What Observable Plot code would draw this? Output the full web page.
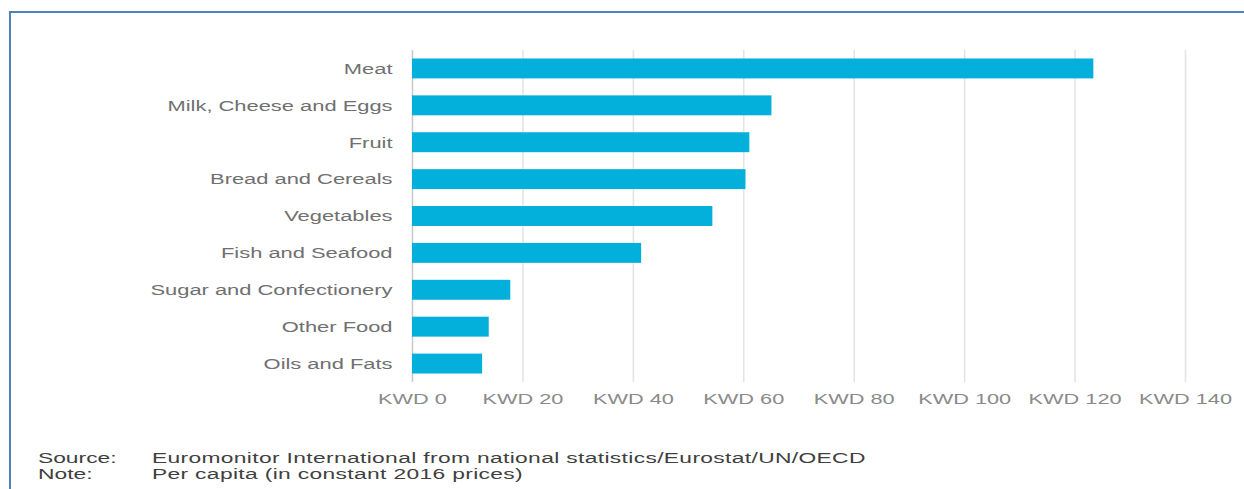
<!DOCTYPE html>
<html>
<head>
<meta charset="utf-8">
<script src="https://cdn.jsdelivr.net/npm/d3@7"></script>
<script src="https://cdn.jsdelivr.net/npm/@observablehq/plot@0.6"></script>
<style>
  html, body { margin: 0; padding: 0; background: #fff; }
  #frame {
    position: relative; width: 1244px; height: 489px; overflow: hidden;
    font-family: "Liberation Sans", Arial, sans-serif;
  }
  #border-top { position: absolute; left: 9px; top: 11px; width: 1235px; height: 2px; background: #4f81bd; }
  #border-left { position: absolute; left: 9px; top: 11px; width: 2px; height: 478px; background: #4f81bd; }
  #chart { position: absolute; left: 0; top: 0; }
  #notes {
    position: absolute; left: 38px; top: 450px;
    font-size: 15.5px; line-height: 16px; color: #404040;
    transform: scaleX(1.47); transform-origin: 0 0; white-space: nowrap;
  }
  #notes .row { display: flex; }
  #notes .key { width: 77.5px; }
  #notes .val { letter-spacing: 0.24px; }
</style>
</head>
<body>
<div id="frame">
  <div id="border-top"></div>
  <div id="border-left"></div>
  <div id="chart"></div>
  <div id="notes">
    <div class="row"><span class="key">Source:</span><span class="val">Euromonitor International from national statistics/Eurostat/UN/OECD</span></div>
    <div class="row"><span class="key">Note:</span><span class="val">Per capita (in constant 2016 prices)</span></div>
  </div>
</div>
<script>
// Per-capita food spending by category, KWD
const categories = [
  "Meat",
  "Milk, Cheese and Eggs",
  "Fruit",
  "Bread and Cereals",
  "Vegetables",
  "Fish and Seafood",
  "Sugar and Confectionery",
  "Other Food",
  "Oils and Fats"
];
const spending = [123.4, 65.1, 61.1, 60.4, 54.4, 41.5, 17.8, 13.9, 12.7];
const xTicks = [0, 20, 40, 60, 80, 100, 120, 140];
const tickLabel = (d) => `KWD ${d}`;

const data = categories.map((category, i) => ({category, value: spending[i]}));

const W = 1244, H = 420;

const chart = Plot.plot({
  width: W,
  height: H,
  marginTop: 50,
  marginBottom: 38,
  marginLeft: 412,
  marginRight: 59,
  style: {fontFamily: "'Liberation Sans', Arial, sans-serif", fontSize: "15px", background: "transparent"},
  x: {domain: [0, 140], ticks: xTicks, label: null},
  y: {domain: categories, paddingInner: 0.46, paddingOuter: 0.23, round: false, label: null},
  marks: [
    Plot.ruleX(xTicks.filter(d => d > 0), {stroke: "#e3e3e3", strokeWidth: 1.5}),
    Plot.ruleX([0], {stroke: "#c8c8c8", strokeWidth: 1.5}),
    Plot.barX(data, {x: "value", y: "category", fill: "#03b0db"}),
    Plot.axisY({tickSize: 0, tickPadding: 20, fill: "#707070", fontSize: 15, label: null}),
    Plot.axisX({ticks: xTicks, tickSize: 0, tickPadding: 10.5, tickFormat: tickLabel, fill: "#8a8a8a", fontSize: 15, label: null})
  ]
});

// Widen the axis lettering horizontally around each label's anchor point
d3.select(chart).selectAll('g[aria-label="y-axis tick label"] text').each(function() {
  const t = this.getAttribute("transform") || "";
  this.setAttribute("transform", t + " scale(1.46,1)");
});
d3.select(chart).selectAll('g[aria-label="x-axis tick label"] text').each(function() {
  const t = this.getAttribute("transform") || "";
  this.setAttribute("transform", t + " scale(1.45,1)");
});

document.getElementById("chart").appendChild(chart);
</script>
</body>
</html>
